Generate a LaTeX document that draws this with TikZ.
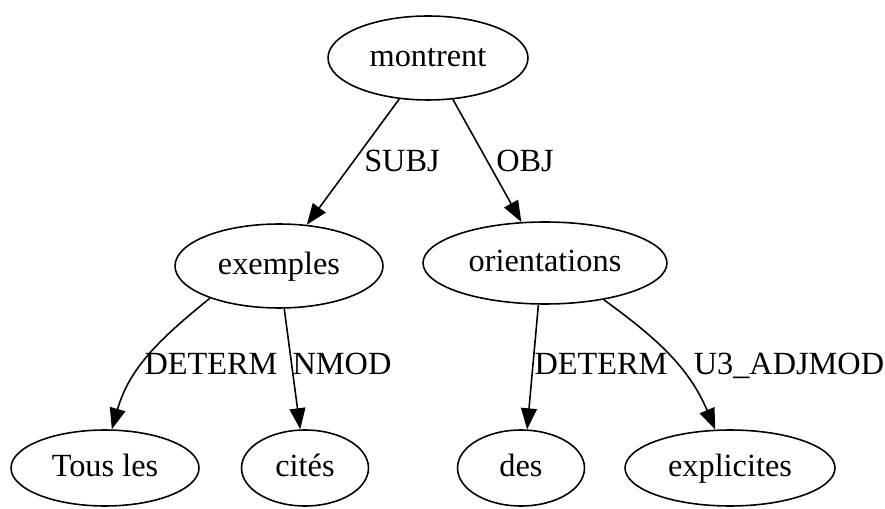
\documentclass[tikz,border=0pt]{standalone}
\usepackage{fontspec}
\setmainfont{Liberation Serif}
\usepackage{tikz}
\usetikzlibrary{shapes.geometric,arrows.meta}

\begin{document}
\begin{tikzpicture}[x=0.02cm, y=-0.02cm,
    word/.style={ellipse, draw, line width=0.9pt, inner sep=0pt,
        text height=12.6pt, text depth=2.4pt,
        font=\fontsize{18.4}{22}\selectfont},
    dep/.style={-{Triangle[length=12pt, width=9pt]}, line width=0.9pt},
    rel/.style={anchor=base, font=\fontsize{18.4}{22}\selectfont}]
    \useasboundingbox (0,0) rectangle (885,509);

    %%  Words of the sentence
    % Root
    \node [word, minimum width=4cm, minimum height=1.68cm] (montrent) at (428, 58) {montrent};
    % Second row
    \node [word, minimum width=4.16cm, minimum height=1.68cm] (exemples) at (279, 266) {exemples};
    \node [word, minimum width=4.88cm, minimum height=1.64cm] (orientations) at (545, 263) {orientations};
    % Leaves
    \node [word, minimum width=3.76cm, minimum height=1.52cm] (tousles) at (105, 468) {Tous les};
    \node [word, minimum width=2.54cm, minimum height=1.52cm] (cites) at (305, 468) {cités};
    \node [word, minimum width=2.54cm, minimum height=1.52cm] (des) at (521, 468) {des};
    \node [word, minimum width=4.2cm, minimum height=1.52cm] (explicites) at (730, 468) {explicites};

    %%  Dependencies
    % Root to its arguments
    \draw [dep] (montrent.235) -- (exemples.56);
    \node [rel] (subj) at (402, 172) {SUBJ};
    \draw [dep] (montrent.301) -- (orientations.120);
    \node [rel] (obj) at (525, 172) {OBJ};
    % Modifiers of exemples
    \draw [dep] (exemples.205) to [out=219, in=74] (tousles.80);
    \node [rel] (determl) at (211, 375) {DETERM};
    \draw [dep] (exemples.277) -- (cites.97);
    \node [rel] (nmod) at (342, 375) {NMOD};
    % Modifiers of orientations
    \draw [dep] (orientations.261) -- (des.81);
    \node [rel] (determr) at (601, 375) {DETERM};
    \draw [dep] (orientations.328) to [out=324, in=113] (explicites.111);
    \node [rel] (adjmod) at (789, 375) {U3\_ADJMOD};

\end{tikzpicture}
\end{document}
